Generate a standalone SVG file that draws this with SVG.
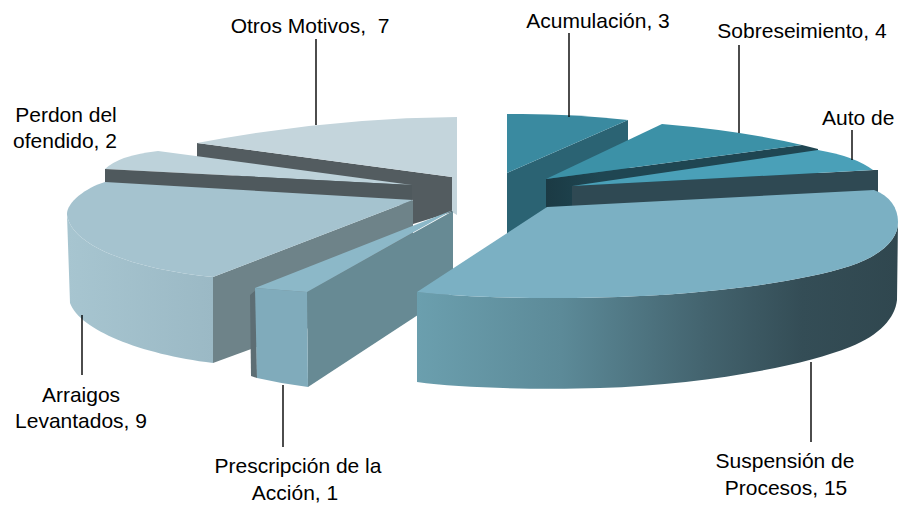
<svg xmlns="http://www.w3.org/2000/svg" width="898" height="505" viewBox="0 0 898 505">
<defs>
<style>
.lbl{font-family:"Liberation Sans",Arial,sans-serif;font-size:21px;fill:#000;text-anchor:middle}
.ld{stroke:#000;stroke-width:1.4;fill:none}
</style>
<linearGradient id="gSusp" gradientUnits="userSpaceOnUse" x1="417" y1="0" x2="898" y2="0">
<stop offset="0" stop-color="#6b9fae"/>
<stop offset="0.3" stop-color="#5c8a98"/>
<stop offset="0.6" stop-color="#43636e"/>
<stop offset="0.8" stop-color="#344d56"/>
<stop offset="1" stop-color="#30474f"/>
</linearGradient>
<linearGradient id="gArr" gradientUnits="userSpaceOnUse" x1="67" y1="0" x2="213" y2="0">
<stop offset="0" stop-color="#a7c5d0"/>
<stop offset="1" stop-color="#9bb9c5"/>
</linearGradient>
<linearGradient id="gSob" gradientUnits="userSpaceOnUse" x1="546" y1="0" x2="600" y2="0">
<stop offset="0" stop-color="#1b3a44"/>
<stop offset="1" stop-color="#1f4652"/>
</linearGradient>
</defs>
<rect width="898" height="505" fill="#fff"/>

<g id="otros">
<polygon points="197,143 452,177 452,212 413,224 413,200 197,170" fill="#535c60"/>
<path d="M197,143 Q327,118 457,117 L457,215 L452,212 L452,177 Z" fill="#c4d5dc"/>
</g>

<g id="perdon">
<path d="M105,169 Q120,155 158,151 L412,185 Z" fill="#bdd2da"/>
<polygon points="105,169 412,185 412,205 105,195" fill="#4f595d"/>
</g>

<g id="arraigos">
<polygon points="213,277 413,200 413,290 213,363" fill="#6e8389"/>
<path d="M67,215 C72,248 140,270 213,277 L213,363 C140,354 80,330 70,303 Z" fill="url(#gArr)"/>
<path d="M105,182 C85,188 66,203 67,215 C72,248 140,270 213,277 L413,200 Z" fill="#a5c3cf"/>
</g>

<g id="prescripcion">
<polygon points="250,295 256,290 257,378 251,376" fill="#5d6e74"/>
<polygon points="307,292 453,211 453,292 308,387" fill="#678a94"/>
<path d="M255,288 L307,292 L308,387 Q283,384 257,378 Z" fill="#80abbb"/>
<polygon points="255,288 453,210 307,292" fill="#8cb8c8"/>
</g>

<g id="acumulacion">
<polygon points="507,173 628,120 628,210 507,263" fill="#2b6373"/>
<path d="M507,114 Q567,113 628,120 L507,173 Z" fill="#3a8aa0"/>
</g>

<g id="sobreseimiento">
<polygon points="546,179 802,145 818,149 818,240 546,270" fill="url(#gSob)"/>
<path d="M546,179 L662,124 Q744,131 802,145 Z" fill="#3c91a7"/>
</g>

<g id="autode">
<polygon points="572,186 874,170 878,170 878,250 572,260" fill="#2f4953"/>
<path d="M572,186 L818,150 Q854,156 873,170 Z" fill="#4aa0b8"/>
</g>

<g id="suspension">
<path d="M417,292 C470,298 560,300 640,296 C720,292 800,282 850,266 C885,254 898,238 898,222 L897,300 C895,318 880,335 850,347 C800,367 700,385 600,388 C540,390 460,388 417,382 Z" fill="url(#gSusp)"/>
<path d="M547,207 L874,190 C890,196 898,208 898,222 C898,238 885,254 850,266 C800,282 720,292 640,296 C560,300 470,298 417,292 Z" fill="#7bb0c3"/>
</g>

<g id="connectors">
<line class="ld" x1="316" y1="39" x2="316" y2="125"/>
<line class="ld" x1="569" y1="33" x2="569" y2="117"/>
<line class="ld" x1="739" y1="45" x2="739" y2="133"/>
<line class="ld" x1="852" y1="130" x2="852" y2="160"/>
<line class="ld" x1="82" y1="315" x2="82" y2="375"/>
<line class="ld" x1="283" y1="385" x2="283" y2="447"/>
<line class="ld" x1="811" y1="362" x2="811" y2="442"/>
</g>

<g id="labels">
<text class="lbl" x="310" y="33" xml:space="preserve">Otros Motivos,  7</text>
<text class="lbl" x="66" y="122">Perdon del</text>
<text class="lbl" x="65" y="148">ofendido, 2</text>
<text class="lbl" x="598" y="28">Acumulación, 3</text>
<text class="lbl" x="802" y="38">Sobreseimiento, 4</text>
<text class="lbl" x="822" y="125" style="text-anchor:start">Auto de</text>
<text class="lbl" x="81" y="402">Arraigos</text>
<text class="lbl" x="81" y="428">Levantados, 9</text>
<text class="lbl" x="298" y="473">Prescripción de la</text>
<text class="lbl" x="295" y="500">Acción, 1</text>
<text class="lbl" x="785" y="468">Suspensión de</text>
<text class="lbl" x="786" y="495">Procesos, 15</text>
</g>
</svg>
